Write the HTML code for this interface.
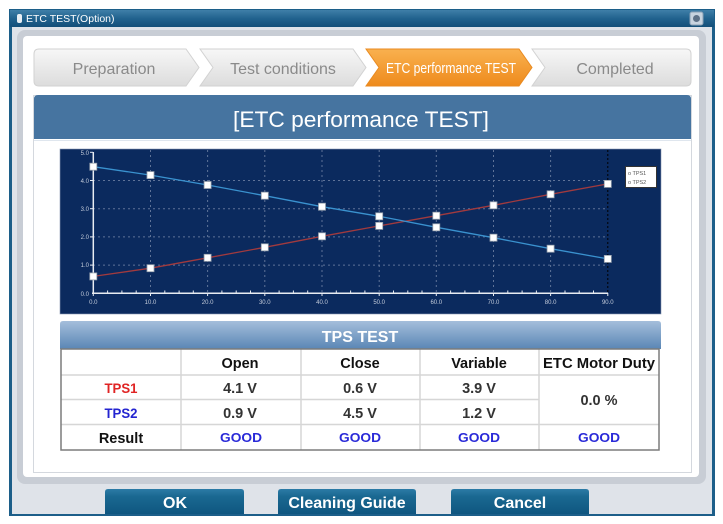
<!DOCTYPE html>
<html><head><meta charset="utf-8"><style>
html,body{margin:0;padding:0;background:#fff;width:723px;height:524px;overflow:hidden}
svg{display:block}
text{font-family:"Liberation Sans",sans-serif}
</style></head><body>
<svg width="723" height="524" viewBox="0 0 723 524" xmlns="http://www.w3.org/2000/svg">
<defs>
<linearGradient id="gTitle" x1="0" y1="0" x2="0" y2="1"><stop offset="0" stop-color="#3f7fa8"/><stop offset="0.5" stop-color="#21628e"/><stop offset="1" stop-color="#134f79"/></linearGradient>
<linearGradient id="gTab" x1="0" y1="0" x2="0" y2="1"><stop offset="0" stop-color="#f7f7f7"/><stop offset="1" stop-color="#dcdcdc"/></linearGradient>
<linearGradient id="gOr" x1="0" y1="0" x2="0" y2="1"><stop offset="0" stop-color="#f9b14f"/><stop offset="1" stop-color="#ee8a1c"/></linearGradient>
<linearGradient id="gTps" x1="0" y1="0" x2="0" y2="1"><stop offset="0" stop-color="#a4bedb"/><stop offset="1" stop-color="#5a86b5"/></linearGradient>
<linearGradient id="gBtn" x1="0" y1="0" x2="0" y2="1"><stop offset="0" stop-color="#2c7ba6"/><stop offset="0.3" stop-color="#1a6891"/><stop offset="1" stop-color="#0f5680"/></linearGradient>
</defs>
<rect width="723" height="524" fill="#fff"/>
<rect x="9" y="9" width="706" height="507" fill="#1c5e89"/>
<rect x="10" y="10" width="704" height="17" fill="url(#gTitle)"/>
<rect x="12" y="27" width="700" height="487" fill="#dfe3e9"/>
<rect x="17" y="14" width="5" height="9" rx="2" fill="#e8eef4"/>
<text x="26" y="22" font-size="10.5" fill="#fff">ETC TEST(Option)</text>
<rect x="690" y="12" width="13" height="13" rx="2" fill="#c7d3df" stroke="#8aa0b6"/>
<circle cx="696.5" cy="18.5" r="3.5" fill="#5d7187"/>
<rect x="17" y="30" width="689" height="454" rx="8" fill="#c8cdd5"/>
<rect x="23" y="36" width="676" height="441" rx="4" fill="#fff"/>
<path d="M39 49 H186 L199 67.5 L186 86 H39 Q34 86 34 81 V54 Q34 49 39 49 Z" fill="url(#gTab)" stroke="#d2d2d2"/>
<path d="M200 49 H353 L366 67.5 L353 86 H200 L213 67.5 Z" fill="url(#gTab)" stroke="#d2d2d2"/>
<path d="M366 49 H519 L532 67.5 L519 86 H366 L379 67.5 Z" fill="url(#gOr)" stroke="#e98a20"/>
<path d="M532 49 H686 Q691 49 691 54 V81 Q691 86 686 86 H532 L545 67.5 Z" fill="url(#gTab)" stroke="#d2d2d2"/>
<text x="114" y="74" font-size="16" fill="#8a8a8a" text-anchor="middle">Preparation</text>
<text x="283" y="74" font-size="16" fill="#8a8a8a" text-anchor="middle">Test conditions</text>
<text x="451" y="73" font-size="15" fill="#fff" text-anchor="middle" textLength="130" lengthAdjust="spacingAndGlyphs">ETC performance TEST</text>
<text x="615" y="74" font-size="16" fill="#8a8a8a" text-anchor="middle">Completed</text>
<rect x="33.5" y="95.5" width="658" height="377" fill="#fff" stroke="#d4d8de"/>
<path d="M34 99 Q34 95 38 95 H687 Q691 95 691 99 V139 H34 Z" fill="#4674a0"/>
<text x="361" y="127" font-size="22" fill="#fff" text-anchor="middle" textLength="256" lengthAdjust="spacingAndGlyphs">[ETC performance TEST]</text>
<line x1="34" y1="140.5" x2="691" y2="140.5" stroke="#dfe6ee"/>
<rect x="60" y="149" width="601" height="165" fill="#0b2a5e" stroke="#8a9ab4" stroke-width="0.6"/>
<g stroke="#5f7398" stroke-width="1" stroke-dasharray="2,3">
<line x1="93" y1="265.1" x2="608" y2="265.1"/>
<line x1="93" y1="236.9" x2="608" y2="236.9"/>
<line x1="93" y1="208.7" x2="608" y2="208.7"/>
<line x1="93" y1="180.5" x2="608" y2="180.5"/>
<line x1="150.5" y1="150" x2="150.5" y2="293"/>
<line x1="207.6" y1="150" x2="207.6" y2="293"/>
<line x1="264.8" y1="150" x2="264.8" y2="293"/>
<line x1="322" y1="150" x2="322" y2="293"/>
<line x1="379.2" y1="150" x2="379.2" y2="293"/>
<line x1="436.3" y1="150" x2="436.3" y2="293"/>
<line x1="493.5" y1="150" x2="493.5" y2="293"/>
<line x1="550.6" y1="150" x2="550.6" y2="293"/>
</g>
<line x1="607.8" y1="150" x2="607.8" y2="293" stroke="#000" stroke-dasharray="2,2"/>
<line x1="93.3" y1="152" x2="93.3" y2="294" stroke="#e8ecf2" stroke-width="1.5"/>
<line x1="92" y1="293.3" x2="608" y2="293.3" stroke="#e8ecf2" stroke-width="1.5"/>
<g stroke="#e8ecf2" stroke-width="1">
<line x1="90" y1="152.3" x2="93" y2="152.3"/><line x1="90" y1="180.5" x2="93" y2="180.5"/><line x1="90" y1="208.7" x2="93" y2="208.7"/><line x1="90" y1="236.9" x2="93" y2="236.9"/><line x1="90" y1="265.1" x2="93" y2="265.1"/>
</g>
<g stroke="#e8ecf2" stroke-width="1">
<path d="M107.6 293V290.5M121.9 293V290.5M136.2 293V290.5M164.8 293V290.5M179.1 293V290.5M193.3 293V290.5M221.9 293V290.5M236.2 293V290.5M250.5 293V290.5M279.1 293V290.5M293.4 293V290.5M307.7 293V290.5M336.3 293V290.5M350.6 293V290.5M364.9 293V290.5M393.5 293V290.5M407.8 293V290.5M422 293V290.5M450.6 293V290.5M464.9 293V290.5M479.2 293V290.5M507.8 293V290.5M522.1 293V290.5M536.4 293V290.5M565 293V290.5M579.2 293V290.5M593.5 293V290.5"/>
<path d="M150.5 293V296M207.6 293V296M264.8 293V296M322 293V296M379.2 293V296M436.3 293V296M493.5 293V296M550.6 293V296M607.8 293V296M93.3 293V296"/>
</g>
<g font-size="6" fill="#c4ccdb" text-anchor="end">
<text x="89" y="155">5.0</text><text x="89" y="183">4.0</text><text x="89" y="211">3.0</text><text x="89" y="239">2.0</text><text x="89" y="267">1.0</text><text x="89" y="296">0.0</text>
</g>
<g font-size="6" fill="#c4ccdb" text-anchor="middle">
<text x="93.3" y="304">0.0</text><text x="150.5" y="304">10.0</text><text x="207.6" y="304">20.0</text><text x="264.8" y="304">30.0</text><text x="322" y="304">40.0</text><text x="379.2" y="304">50.0</text><text x="436.3" y="304">60.0</text><text x="493.5" y="304">70.0</text><text x="550.6" y="304">80.0</text><text x="607.8" y="304">90.0</text>
</g>
<polyline fill="none" stroke="#a13a3e" stroke-width="1.3" points="93.3,276.4 150.5,268.2 207.6,257.8 264.8,247.3 322,236.3 379.2,225.9 436.3,215.7 493.5,205.3 550.6,194.3 607.8,183.9"/>
<polyline fill="none" stroke="#3a92cf" stroke-width="1.3" points="93.3,166.7 150.5,175.1 207.6,185 264.8,195.7 322,206.7 379.2,216.3 436.3,227.3 493.5,237.7 550.6,248.7 607.8,258.9"/>
<g fill="#fff" stroke="#9aa3ae" stroke-width="0.8">
<rect x="89.8" y="272.9" width="7" height="7"/><rect x="147" y="264.7" width="7" height="7"/><rect x="204.1" y="254.3" width="7" height="7"/><rect x="261.3" y="243.8" width="7" height="7"/><rect x="318.5" y="232.8" width="7" height="7"/><rect x="375.7" y="222.4" width="7" height="7"/><rect x="432.8" y="212.2" width="7" height="7"/><rect x="490" y="201.8" width="7" height="7"/><rect x="547.1" y="190.8" width="7" height="7"/><rect x="604.3" y="180.4" width="7" height="7"/>
<rect x="89.8" y="163.2" width="7" height="7"/><rect x="147" y="171.6" width="7" height="7"/><rect x="204.1" y="181.5" width="7" height="7"/><rect x="261.3" y="192.2" width="7" height="7"/><rect x="318.5" y="203.2" width="7" height="7"/><rect x="375.7" y="212.8" width="7" height="7"/><rect x="432.8" y="223.8" width="7" height="7"/><rect x="490" y="234.2" width="7" height="7"/><rect x="547.1" y="245.2" width="7" height="7"/><rect x="604.3" y="255.4" width="7" height="7"/>
</g>
<rect x="625.5" y="166.5" width="31" height="21" fill="#fff" stroke="#333"/>
<g font-size="5.5" fill="#555"><text x="628" y="175">o TPS1</text><text x="628" y="184">o TPS2</text></g>
<path d="M60 324 Q60 321 63 321 H658 Q661 321 661 324 V349 H60 Z" fill="url(#gTps)"/>
<text x="360" y="342" font-size="16" font-weight="bold" fill="#fff" text-anchor="middle">TPS TEST</text>
<rect x="61" y="349" width="598" height="101" fill="#fff"/>
<g stroke="#d6d6d6" stroke-width="1.5">
<line x1="61" y1="375" x2="659" y2="375"/>
<line x1="61" y1="399.5" x2="539" y2="399.5"/>
<line x1="61" y1="424.5" x2="659" y2="424.5"/>
<line x1="181" y1="349" x2="181" y2="450"/>
<line x1="301" y1="349" x2="301" y2="450"/>
<line x1="420" y1="349" x2="420" y2="450"/>
<line x1="539" y1="349" x2="539" y2="450"/>
</g>
<rect x="61" y="349" width="598" height="101" fill="none" stroke="#7c7c7c" stroke-width="1.5"/>
<g font-size="14.5" font-weight="bold" fill="#111" text-anchor="middle">
<text x="240" y="368">Open</text><text x="360" y="368">Close</text><text x="479" y="368">Variable</text><text x="599" y="368" textLength="112" lengthAdjust="spacingAndGlyphs">ETC Motor Duty</text>
<text x="121" y="443">Result</text>
</g>
<g font-size="14" font-weight="bold" text-anchor="middle">
<text x="121" y="393" fill="#e02424" textLength="33" lengthAdjust="spacingAndGlyphs">TPS1</text>
<text x="121" y="418" fill="#2424d0" textLength="33" lengthAdjust="spacingAndGlyphs">TPS2</text>
</g>
<g font-size="14.5" font-weight="bold" fill="#333" text-anchor="middle">
<text x="240" y="393">4.1 V</text><text x="360" y="393">0.6 V</text><text x="479" y="393">3.9 V</text>
<text x="240" y="418">0.9 V</text><text x="360" y="418">4.5 V</text><text x="479" y="418">1.2 V</text>
<text x="599" y="405">0.0 %</text>
</g>
<g font-size="13" font-weight="bold" fill="#2a2ad8" text-anchor="middle" style="font-family:'DejaVu Sans',sans-serif">
<text x="241" y="442" textLength="42" lengthAdjust="spacingAndGlyphs">GOOD</text><text x="360" y="442" textLength="42" lengthAdjust="spacingAndGlyphs">GOOD</text><text x="479" y="442" textLength="42" lengthAdjust="spacingAndGlyphs">GOOD</text><text x="599" y="442" textLength="42" lengthAdjust="spacingAndGlyphs">GOOD</text>
</g>
<path d="M105 492 Q105 489 108 489 H241 Q244 489 244 492 V514 H105 Z" fill="url(#gBtn)"/>
<path d="M278 492 Q278 489 281 489 H413 Q416 489 416 492 V514 H278 Z" fill="url(#gBtn)"/>
<path d="M451 492 Q451 489 454 489 H586 Q589 489 589 492 V514 H451 Z" fill="url(#gBtn)"/>
<g font-size="16" font-weight="bold" fill="#fff" text-anchor="middle">
<text x="175" y="508">OK</text><text x="347" y="508">Cleaning Guide</text><text x="520" y="508">Cancel</text>
</g>
<rect x="9" y="514" width="706" height="2" fill="#1c5e89"/>
</svg>
</body></html>
